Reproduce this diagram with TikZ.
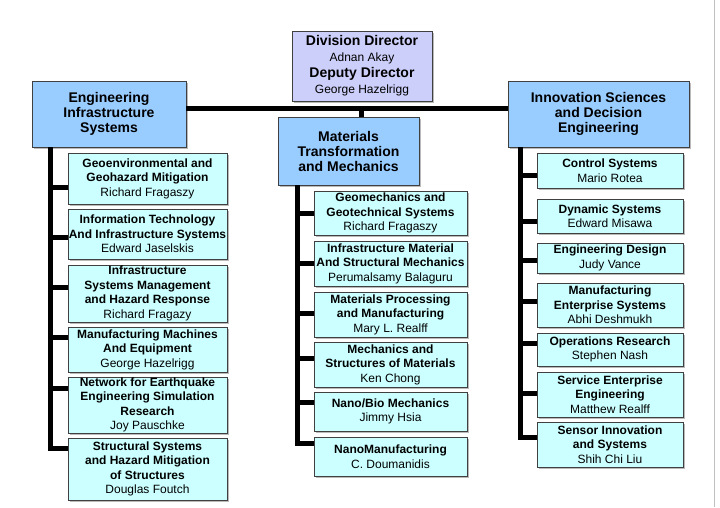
\documentclass[tikz,border=0pt]{standalone}
\usepackage{fontspec}
\setmainfont{Liberation Sans}
\usepackage{xcolor}
\usepackage{tikz}
\usetikzlibrary{shapes,shadows}
\definecolor{dirfill}{HTML}{CCCFFA}
\definecolor{headfill}{HTML}{99CCFF}
\definecolor{subfill}{HTML}{CCFFFF}
\newcommand{\pname}[1]{{\mdseries #1}}
\tikzset{box/.style={rectangle,draw=black!75,line width=0.8pt,inner sep=0pt,align=center,
    drop shadow={shadow xshift=1.5pt,shadow yshift=-2pt,fill=black!45,opacity=0.6}}}
\tikzset{dirbox/.style={box,fill=dirfill,font=\bfseries\fontsize{14}{16}\selectfont}}
\tikzset{headbox/.style={box,fill=headfill,font=\bfseries\fontsize{14}{15}\selectfont}}
\tikzset{subbox/.style={box,fill=subfill,font=\bfseries\fontsize{12}{14.5}\selectfont}}
\tikzset{conn/.style={line width=5pt}}

\begin{document}
\begin{tikzpicture}[x=1pt,y=-1pt]
    \useasboundingbox (0,0) rectangle (720,507);
    \draw[black!25] (714,0) -- (714,507);

    \node[dirbox,minimum width=140,minimum height=70] (dir) at (362,66) {Division Director\\\pname{\fontsize{12}{16}\selectfont Adnan Akay}\\Deputy Director\\\pname{\fontsize{12}{16}\selectfont George Hazelrigg}};
    \node[headbox,minimum width=154,minimum height=66] (eis) at (109,114) {Engineering\\Infrastructure\\Systems};
    \node[headbox,minimum width=141,minimum height=68] (mtm) at (348.5,151) {Materials\\Transformation\\and Mechanics};
    \node[headbox,minimum width=181,minimum height=66] (isde) at (598.5,114) {Innovation Sciences\\and Decision\\Engineering};

    \node[subbox,minimum width=159,minimum height=51] (l1) at (147.5,178.5) {Geoenvironmental and\\Geohazard Mitigation\\\pname{Richard Fragaszy}};
    \node[subbox,minimum width=159,minimum height=50] (l2) at (147.5,234) {Information Technology\\And Infrastructure Systems\\\pname{Edward Jaselskis}};
    \node[subbox,minimum width=159,minimum height=57] (l3) at (147.5,293.5) {Infrastructure\\Systems Management\\and Hazard Response\\\pname{Richard Fragazy}};
    \node[subbox,minimum width=159,minimum height=45] (l4) at (147.5,349.5) {Manufacturing Machines\\And Equipment\\\pname{George Hazelrigg}};
    \node[subbox,minimum width=159,minimum height=56] (l5) at (147.5,405) {Network for Earthquake\\Engineering Simulation\\Research\\\pname{Joy Pauschke}};
    \node[subbox,minimum width=159,minimum height=62] (l6) at (147.5,469) {Structural Systems\\and Hazard Mitigation\\of Structures\\\pname{Douglas Foutch}};

    \node[subbox,minimum width=153,minimum height=44] (m1) at (390.5,213) {Geomechanics and\\Geotechnical Systems\\\pname{Richard Fragaszy}};
    \node[subbox,minimum width=153,minimum height=45] (m2) at (390.5,263.5) {Infrastructure Material\\And Structural Mechanics\\\pname{Perumalsamy Balaguru}};
    \node[subbox,minimum width=153,minimum height=45] (m3) at (390.5,314.5) {Materials Processing\\and Manufacturing\\\pname{Mary L. Realff}};
    \node[subbox,minimum width=153,minimum height=45] (m4) at (390.5,364.5) {Mechanics and\\Structures of Materials\\\pname{Ken Chong}};
    \node[subbox,minimum width=153,minimum height=39] (m5) at (390.5,411.5) {Nano/Bio Mechanics\\\pname{Jimmy Hsia}};
    \node[subbox,minimum width=153,minimum height=39] (m6) at (390.5,456.5) {NanoManufacturing\\\pname{C. Doumanidis}};

    \node[subbox,minimum width=146,minimum height=35] (r1) at (610,170.5) {Control Systems\\\pname{Mario Rotea}};
    \node[subbox,minimum width=146,minimum height=34] (r2) at (610,216) {Dynamic Systems\\\pname{Edward Misawa}};
    \node[subbox,minimum width=146,minimum height=30] (r3) at (610,258) {Engineering Design\\\pname{Judy Vance}};
    \node[subbox,minimum width=146,minimum height=44] (r4) at (610,305) {Manufacturing\\Enterprise Systems\\\pname{Abhi Deshmukh}};
    \node[subbox,minimum width=146,minimum height=33] (r5) at (610,349.5) {Operations Research\\\pname{Stephen Nash}};
    \node[subbox,minimum width=146,minimum height=45] (r6) at (610,394.5) {Service Enterprise\\Engineering\\\pname{Matthew Realff}};
    \node[subbox,minimum width=146,minimum height=45] (r7) at (610,444.5) {Sensor Innovation\\and Systems\\\pname{Shih Chi Liu}};

    \coordinate (hub) at (361,108);
    \coordinate (lt) at (50,147);
    \coordinate (mt) at (297,185);
    \coordinate (rt) at (520,147);

    \draw[conn] (eis.east |- hub) -- (isde.west |- hub);
    \draw[conn] (hub) -- (hub |- mtm.north);

    \draw[conn] ([yshift=-8.5pt]l1.west) -| (lt);
    \draw[conn] ([yshift=-3pt]l2.west) -| (lt);
    \draw[conn] ([yshift=6.5pt]l3.west) -| (lt);
    \draw[conn] ([yshift=12.5pt]l4.west) -| (lt);
    \draw[conn] ([yshift=17pt]l5.west) -| (lt);
    \draw[conn] ([yshift=21pt]l6.west) -| (lt);

    \draw[conn] (m1.west) -| (mt);
    \draw[conn] (m2.west) -| (mt);
    \draw[conn] ([yshift=1.5pt]m3.west) -| (mt);
    \draw[conn] ([yshift=6.5pt]m4.west) -| (mt);
    \draw[conn] ([yshift=9.5pt]m5.west) -| (mt);
    \draw[conn] ([yshift=13.5pt]m6.west) -| (mt);

    \draw[conn] ([yshift=-4.5pt]r1.west) -| (rt);
    \draw[conn] ([yshift=-5pt]r2.west) -| (rt);
    \draw[conn] ([yshift=-2pt]r3.west) -| (rt);
    \draw[conn] ([yshift=4pt]r4.west) -| (rt);
    \draw[conn] ([yshift=6.5pt]r5.west) -| (rt);
    \draw[conn] ([yshift=1.5pt]r6.west) -| (rt);
    \draw[conn] ([yshift=7.5pt]r7.west) -| (rt);
\end{tikzpicture}
\end{document}
